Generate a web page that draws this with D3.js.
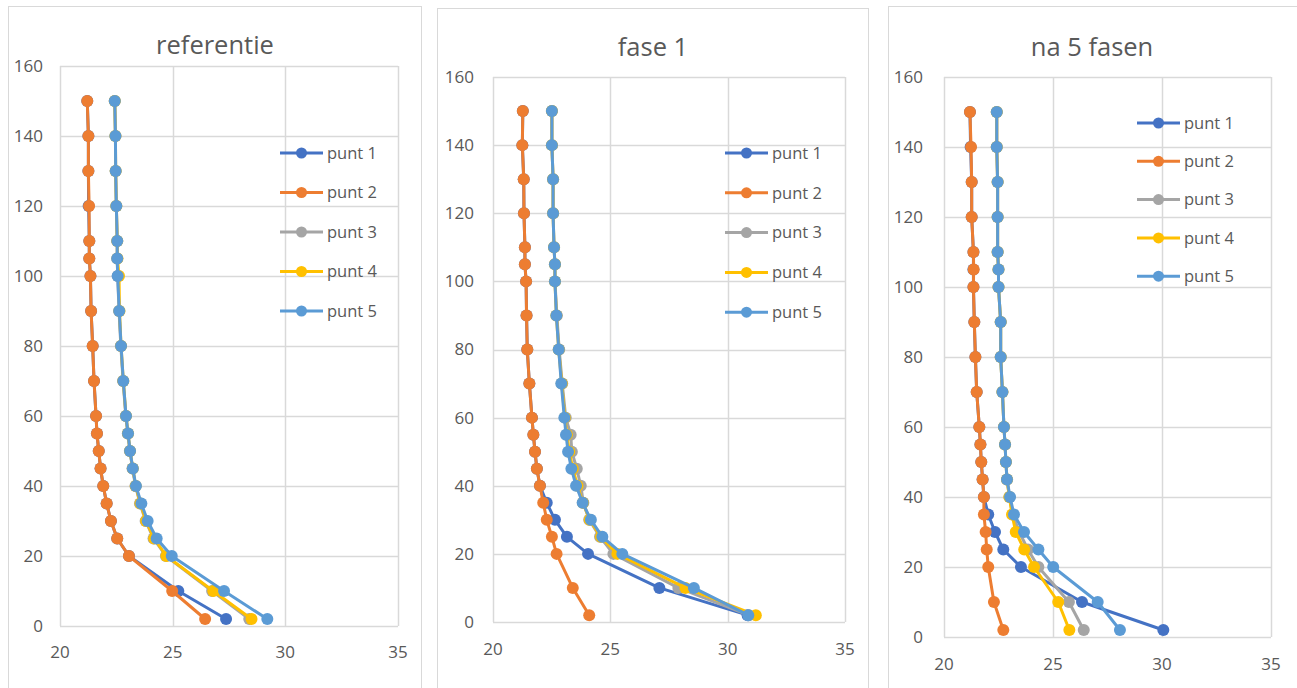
<!DOCTYPE html>
<html>
<head>
<meta charset="utf-8">
<script src="https://cdn.jsdelivr.net/npm/d3@7"></script>
<style>
  body { margin: 0; background: #fff; }
  svg { display: block; font-family: "Open Sans", "Noto Sans", sans-serif; }
</style>
</head>
<body>
<svg width="1297" height="688"></svg>
<script>
// depth of each measuring point (y axis)
var depths = [2, 10, 20, 25, 30, 35, 40, 45, 50, 55, 60, 70, 80, 90, 100, 105, 110, 120, 130, 140, 150];
var seriesNames = ["punt 1", "punt 2", "punt 3", "punt 4", "punt 5"];
var xTicks = [20, 25, 30, 35];
var yTicks = [0, 20, 40, 60, 80, 100, 120, 140, 160];
var titles = ["referentie", "fase 1", "na 5 fasen"];

// referentie
var ref1 = [27.37, 25.25, 23.06, 22.54, 22.26, 22.07, 21.92, 21.8, 21.72, 21.64, 21.6, 21.51, 21.45, 21.38, 21.35, 21.3, 21.3, 21.27, 21.26, 21.26, 21.21];
var ref2 = [26.44, 24.98, 23.06, 22.54, 22.26, 22.07, 21.92, 21.8, 21.72, 21.64, 21.6, 21.51, 21.45, 21.38, 21.35, 21.3, 21.3, 21.29, 21.26, 21.26, 21.21];
var ref3 = [28.4, 26.75, 24.7, 24.15, 23.8, 23.55, 23.35, 23.22, 23.1, 23.01, 22.92, 22.8, 22.7, 22.62, 22.56, 22.54, 22.54, 22.5, 22.47, 22.46, 22.43];
var ref4 = [28.5, 26.8, 24.72, 24.18, 23.82, 23.57, 23.36, 23.23, 23.11, 23.02, 22.93, 22.81, 22.71, 22.64, 22.62, 22.55, 22.54, 22.5, 22.47, 22.46, 22.43];
var ref5 = [29.2, 27.28, 24.96, 24.29, 23.89, 23.61, 23.37, 23.23, 23.11, 23.02, 22.93, 22.81, 22.71, 22.63, 22.56, 22.54, 22.54, 22.5, 22.47, 22.46, 22.43];

// fase 1
var f1p1 = [30.85, 27.09, 24.05, 23.15, 22.64, 22.29, 22.0, 21.87, 21.79, 21.72, 21.66, 21.55, 21.46, 21.43, 21.41, 21.36, 21.36, 21.32, 21.31, 21.25, 21.27];
var f1p2 = [24.1, 23.4, 22.71, 22.51, 22.29, 22.14, 22.0, 21.87, 21.79, 21.72, 21.66, 21.55, 21.46, 21.43, 21.41, 21.36, 21.36, 21.32, 21.31, 21.25, 21.27];
var f1p3 = [30.9, 27.9, 25.13, 24.56, 24.1, 23.85, 23.74, 23.57, 23.36, 23.31, 23.1, 22.95, 22.82, 22.72, 22.64, 22.64, 22.6, 22.56, 22.56, 22.51, 22.51];
var f1p4 = [31.2, 28.2, 25.3, 24.6, 24.12, 23.83, 23.6, 23.4, 23.25, 23.15, 23.06, 22.93, 22.8, 22.7, 22.64, 22.64, 22.6, 22.56, 22.56, 22.51, 22.51];
var f1p5 = [30.88, 28.56, 25.51, 24.66, 24.17, 23.82, 23.54, 23.34, 23.2, 23.11, 23.04, 22.91, 22.8, 22.7, 22.64, 22.64, 22.6, 22.56, 22.56, 22.51, 22.51];

// na 5 fasen
var n5p1 = [30.06, 26.33, 23.53, 22.72, 22.34, 22.03, 21.83, 21.77, 21.71, 21.67, 21.62, 21.5, 21.44, 21.39, 21.35, 21.35, 21.35, 21.27, 21.27, 21.22, 21.19];
var n5p2 = [22.72, 22.29, 22.03, 21.96, 21.91, 21.83, 21.83, 21.77, 21.71, 21.67, 21.62, 21.5, 21.44, 21.39, 21.35, 21.36, 21.35, 21.27, 21.27, 21.24, 21.19];
var n5p3 = [26.41, 25.73, 24.33, 23.85, 23.45, 23.15, 23.0, 22.89, 22.84, 22.8, 22.75, 22.68, 22.6, 22.6, 22.5, 22.5, 22.46, 22.46, 22.46, 22.42, 22.42];
var n5p4 = [25.75, 25.24, 24.13, 23.68, 23.29, 23.12, 23.0, 22.89, 22.84, 22.8, 22.75, 22.68, 22.6, 22.6, 22.5, 22.5, 22.46, 22.46, 22.46, 22.42, 22.42];
var n5p5 = [28.07, 27.05, 25.01, 24.33, 23.67, 23.21, 23.03, 22.89, 22.84, 22.8, 22.75, 22.68, 22.6, 22.6, 22.5, 22.5, 22.46, 22.46, 22.46, 22.42, 22.42];

var colors = ["#4472C4", "#ED7D31", "#A5A5A5", "#FFC000", "#5B9BD5"];

// layout of the three chart boxes (positions only)
var panels = [
  { box: [8, 6, 413, 700], plot: [60, 66, 398, 626], title: [215, 45], legend: [280, 153, 39.5], xLab: 652,
    series: [ref1, ref2, ref3, ref4, ref5] },
  { box: [437, 8, 431, 700], plot: [493, 77, 845, 622], title: [653, 47], legend: [725, 153, 39.8], xLab: 649,
    series: [f1p1, f1p2, f1p3, f1p4, f1p5] },
  { box: [888, 6, 420, 700], plot: [944, 77, 1271, 637], title: [1092, 47], legend: [1137, 123, 38.3], xLab: 664,
    series: [n5p1, n5p2, n5p3, n5p4, n5p5] }
];

var svg = d3.select("svg");

panels.forEach(function(p, pi) {
  var g = svg.append("g");

  g.append("rect")
    .attr("x", p.box[0] + 0.5).attr("y", p.box[1] + 0.5)
    .attr("width", p.box[2]).attr("height", p.box[3])
    .attr("fill", "#fff").attr("stroke", "#d9d9d9");

  var x = d3.scaleLinear().domain([20, 35]).range([p.plot[0], p.plot[2]]);
  var y = d3.scaleLinear().domain([0, 160]).range([p.plot[3], p.plot[1]]);

  // gridlines
  g.selectAll(".vg").data(xTicks).enter().append("line")
    .attr("x1", function(d) { return Math.round(x(d)) + 0.5; })
    .attr("x2", function(d) { return Math.round(x(d)) + 0.5; })
    .attr("y1", y(0)).attr("y2", y(160))
    .attr("stroke", "#d9d9d9").attr("stroke-width", 1.5);
  g.selectAll(".hg").data(yTicks).enter().append("line")
    .attr("y1", function(d) { return Math.round(y(d)) + 0.5; })
    .attr("y2", function(d) { return Math.round(y(d)) + 0.5; })
    .attr("x1", x(20)).attr("x2", x(35))
    .attr("stroke", "#d9d9d9").attr("stroke-width", 1.5);

  // tick labels
  g.selectAll(".yl").data(yTicks).enter().append("text")
    .attr("x", p.plot[0] - 17 - pi * 2)
    .attr("y", function(d) { return y(d); })
    .attr("dy", "0.35em")
    .attr("text-anchor", "end")
    .attr("font-size", 17).attr("fill", "#595959")
    .text(function(d) { return d; });
  g.selectAll(".xl").data(xTicks).enter().append("text")
    .attr("x", function(d) { return x(d); })
    .attr("y", p.xLab)
    .attr("dy", "0.35em")
    .attr("text-anchor", "middle")
    .attr("font-size", 17).attr("fill", "#595959")
    .text(function(d) { return d; });

  // title
  g.append("text")
    .attr("x", p.title[0]).attr("y", p.title[1])
    .attr("dy", "0.35em")
    .attr("text-anchor", "middle")
    .attr("font-size", 25.5).attr("fill", "#595959")
    .text(titles[pi]);

  var line = d3.line()
    .x(function(d) { return x(d[0]); })
    .y(function(d) { return y(d[1]); });

  p.series.forEach(function(vals, si) {
    var pts = vals.map(function(v, i) { return [v, depths[i]]; });
    var sg = g.append("g");
    sg.append("path")
      .datum(pts)
      .attr("d", line)
      .attr("fill", "none")
      .attr("stroke", colors[si])
      .attr("stroke-width", 3)
      .attr("stroke-linejoin", "round");
    sg.selectAll("circle").data(pts).enter().append("circle")
      .attr("cx", function(d) { return x(d[0]); })
      .attr("cy", function(d) { return y(d[1]); })
      .attr("r", 6)
      .attr("fill", colors[si]);
  });

  // legend
  var lg = g.append("g");
  seriesNames.forEach(function(name, si) {
    var ly = p.legend[1] + si * p.legend[2];
    var lx = p.legend[0];
    lg.append("line")
      .attr("x1", lx).attr("x2", lx + 43)
      .attr("y1", ly).attr("y2", ly)
      .attr("stroke", colors[si]).attr("stroke-width", 3);
    lg.append("circle")
      .attr("cx", lx + 21.5).attr("cy", ly).attr("r", 5.5)
      .attr("fill", colors[si]);
    lg.append("text")
      .attr("x", lx + 47).attr("y", ly)
      .attr("dy", "0.35em")
      .attr("font-size", 16.5).attr("fill", "#595959")
      .text(name);
  });
});
</script>
</body>
</html>
